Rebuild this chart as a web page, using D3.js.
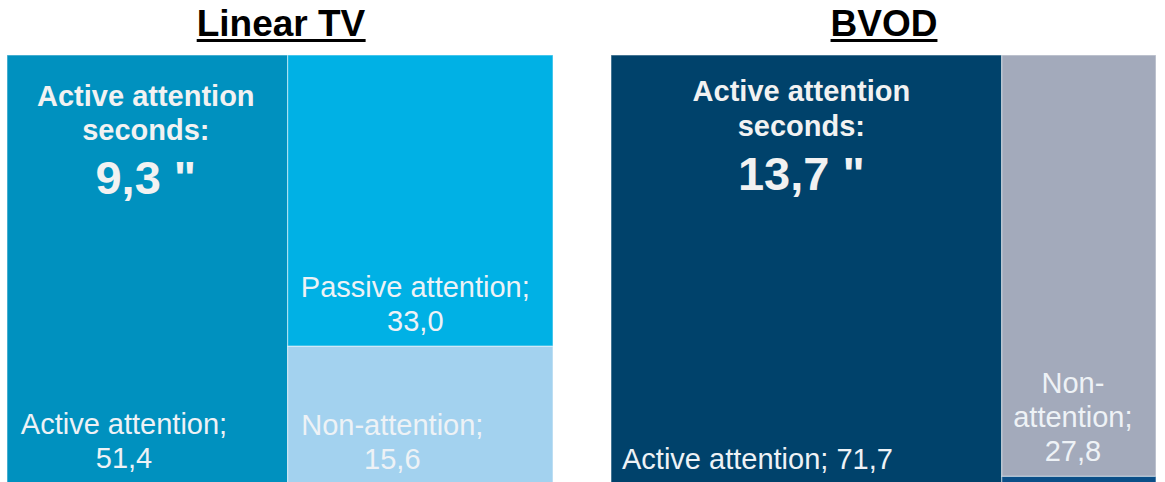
<!DOCTYPE html>
<html><head><meta charset="utf-8">
<script src="https://cdn.jsdelivr.net/npm/d3@7"></script>
<style>
html,body{margin:0;padding:0;background:#fff;}
svg{display:block;font-family:"Liberation Sans",Arial,sans-serif;}
</style></head>
<body>
<svg id="c" width="1165" height="482"></svg>
<script>
// ---- data ----
const panels = ["Linear TV", "BVOD"];
const categories = ["Active attention", "Passive attention", "Non-attention"];
const linearValues = [51.4, 33.0, 15.6];
const bvodValues = [71.7, 0.5, 27.8];
const activeSeconds = ["9,3", "13,7"];
// order of the right column, top to bottom
const linearRightOrder = ["Passive attention", "Non-attention"];
const bvodRightOrder = ["Non-attention", "Passive attention"];

const colors = {
  "Linear TV": {"Active attention": "#0091bf", "Passive attention": "#00b1e5", "Non-attention": "#a3d2ef"},
  "BVOD": {"Active attention": "#00426b", "Passive attention": "#0b4f88", "Non-attention": "#a3aabb"}
};

const svg = d3.select("#c");
const fmt = v => d3.format(".1f")(v).replace(".", ",");

const boxes = [
  {x0: 7, x1: 553, y0: 55, y1: 484},
  {x0: 611, x1: 1156, y0: 55, y1: 484}
];

function build(name, values, rightOrder) {
  const byCat = {};
  categories.forEach((c, i) => byCat[c] = values[i]);
  return {
    name: name,
    children: [
      {name: "Active attention", value: byCat["Active attention"]},
      {name: "rest", children: rightOrder.map(c => ({name: c, value: byCat[c]}))}
    ]
  };
}

const datasets = [build("Linear TV", linearValues, linearRightOrder), build("BVOD", bvodValues, bvodRightOrder)];

datasets.forEach((ds, pi) => {
  const b = boxes[pi];
  const root = d3.hierarchy(ds).sum(d => d.value || 0);
  d3.treemap().tile(d3.treemapSliceDice).size([b.x1 - b.x0, b.y1 - b.y0]).round(false)(root);
  const g = svg.append("g").attr("transform", `translate(${b.x0},${b.y0})`);
  const leaves = root.leaves();
  g.selectAll("rect").data(leaves).join("rect")
    .attr("x", d => d.x0).attr("y", d => d.y0)
    .attr("width", d => d.x1 - d.x0).attr("height", d => d.y1 - d.y0)
    .attr("fill", d => colors[ds.name][d.data.name])
    .attr("stroke", "rgba(255,255,255,0.45)").attr("stroke-width", 1.2);

  // title
  const cx = (b.x0 + b.x1) / 2;
  const t = svg.append("text").attr("x", cx + (pi === 0 ? 1 : 0.5)).attr("y", 36)
    .attr("text-anchor", "middle").attr("font-weight", "bold").attr("font-size", 37)
    .attr("fill", "#000").text(ds.name);
  const bb = t.node().getBBox();
  svg.append("rect").attr("x", bb.x).attr("y", 39).attr("width", bb.width).attr("height", 3).attr("fill", "#000");

  const act = leaves.find(d => d.data.name === "Active attention");
  const acx = b.x0 + (act.x0 + act.x1) / 2 + (pi === 0 ? -1.5 : -5);
  const tops = pi === 0 ? [106, 140, 194] : [101, 136, 190];
  svg.append("text").attr("x", acx).attr("y", tops[0]).attr("text-anchor", "middle")
    .attr("font-weight", "bold").attr("font-size", 29).attr("fill", "#f2f2f2").text("Active attention");
  svg.append("text").attr("x", acx).attr("y", tops[1]).attr("text-anchor", "middle")
    .attr("font-weight", "bold").attr("font-size", 29).attr("fill", "#f2f2f2").text("seconds:");
  svg.append("text").attr("x", acx).attr("y", tops[2]).attr("text-anchor", "middle")
    .attr("font-weight", "bold").attr("font-size", 47).attr("fill", "#f2f2f2").text(activeSeconds[pi] + " \"");

  // data labels
  const lab = (lines, x, y0, anchor) => {
    const tx = svg.append("text").attr("x", x).attr("text-anchor", anchor || "middle")
      .attr("font-size", 29).attr("fill", "#eef2f6");
    lines.forEach((l, i) => tx.append("tspan").attr("x", x).attr("y", y0 + i * 34).text(l));
  };
  const leaf = n => leaves.find(d => d.data.name === n);
  if (pi === 0) {
    const a = leaf("Active attention");
    lab(["Active attention;", fmt(a.value)], 124, 434);
    const p = leaf("Passive attention");
    lab(["Passive attention;", fmt(p.value)], b.x0 + (p.x0 + p.x1) / 2 - 5, 297);
    const n = leaf("Non-attention");
    lab(["Non-attention;", fmt(n.value)], b.x0 + (n.x0 + n.x1) / 2 - 28, 435);
  } else {
    const a = leaf("Active attention");
    lab(["Active attention; " + fmt(a.value)], b.x0 + 11, 469, "start");
    const n = leaf("Non-attention");
    lab(["Non-", "attention;", fmt(n.value)], b.x0 + (n.x0 + n.x1) / 2 - 6, 393);
  }
});
</script>
</body></html>
